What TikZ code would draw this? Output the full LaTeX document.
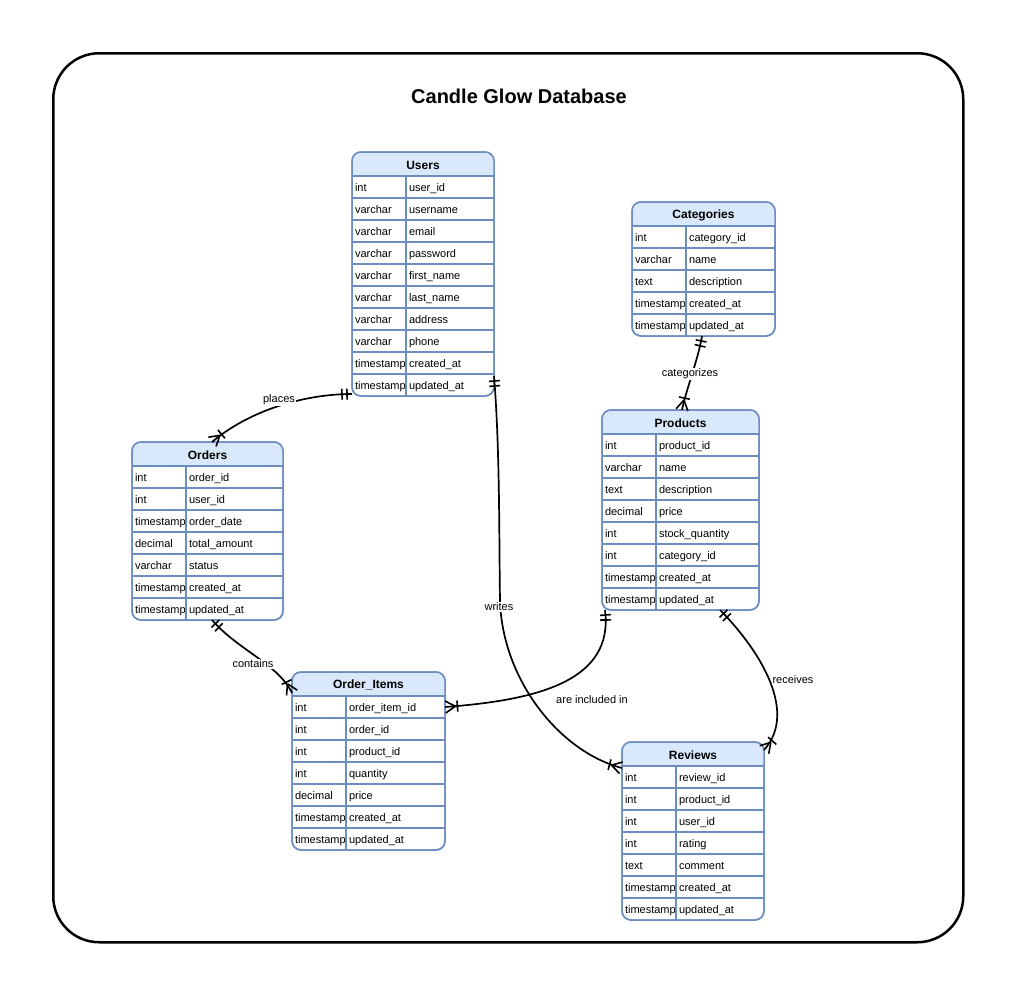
\documentclass[tikz,border=0pt]{standalone}
\usepackage{fontspec}
\setmainfont{Liberation Sans}
\usetikzlibrary{decorations.markings,calc}
\definecolor{hdr}{HTML}{DAE8FC}
\definecolor{bd}{HTML}{6C8EBF}
\tikzset{
  tbl/.style={draw=bd, line width=1.5pt, fill=white, rounded corners=9pt, inner sep=0pt, outer sep=0pt},
  tblline/.style={draw=bd, line width=1.3pt},
  hdrtext/.style={inner sep=0pt, outer sep=0pt, font=\fontsize{12}{14}\selectfont\bfseries},
  rowbox/.style={inner sep=0pt, outer sep=0pt},
  cell/.style={inner sep=0pt, outer sep=0pt, text height=8pt, text depth=2.5pt, font=\fontsize{11}{13}\selectfont},
  lbl/.style={fill=white, inner sep=1pt, font=\fontsize{11}{13}\selectfont},
  frame/.style={draw=black, line width=2.5pt, rounded corners=46pt, inner sep=0pt},
  titletext/.style={font=\fontsize{20}{24}\selectfont\bfseries},
  rel/.style={draw=black, line width=1.7pt, postaction={decorate},
    decoration={markings,
      mark=at position 5pt with {\draw[black, line width=1.6pt] (0,-5.5pt)--(0,5.5pt);},
      mark=at position 10pt with {\draw[black, line width=1.6pt] (0,-5.5pt)--(0,5.5pt);},
      mark=at position 0.998 with {\draw[black, line width=1.6pt] (-10pt,0)--(0,6pt) (-10pt,0)--(0,-6pt) (-12pt,-5.5pt)--(-12pt,5.5pt);}}},
}
% #1 name, #2 x, #3 y, #4 width, #5 divider, #6 title, #7 rows count, #8 rows
\newcommand{\ERtable}[8]{%
  \pgfmathsetmacro\ERh{24+22*#7}%
  \node[tbl, minimum width=#4, minimum height=\ERh, anchor=north west] (#1) at (#2,#3) {};
  \begin{scope}
    \clip (#2,#3) rectangle ++(#4,24);
    \fill[hdr, rounded corners=9pt] (#2,#3) rectangle ++(#4,\ERh);
  \end{scope}
  \node[hdrtext, minimum width=#4, minimum height=24, anchor=north west] (#1-h) at ([yshift=-1pt]#2,#3) {#6};
  \foreach \ty/\fd [count=\i] in {#8} {
    \node[rowbox, minimum width=#4, minimum height=22, anchor=north west] (#1-\i) at (#2,{#3+24+22*(\i-1)}) {};
    \draw[tblline] (#1-\i.north west) -- (#1-\i.north east);
    \node[cell, anchor=west] (#1-\i-t) at ([xshift=3pt, yshift=-1.5pt]#1-\i.west) {\ty};
    \node[cell, anchor=west] (#1-\i-f) at ([xshift=#5pt+3pt, yshift=-1.5pt]#1-\i.west) {\fd};
  }
  \draw[tblline] (#2+#5,#3+24) -- ++(0,22*#7);
  \draw[draw=bd, line width=1.5pt, rounded corners=9pt] (#1.north west) rectangle (#1.south east);
}
\begin{document}
\begin{tikzpicture}[x=1pt, y=-1pt]
\useasboundingbox (0,0) rectangle (1013,993);
\node[frame, minimum width=910, minimum height=889, anchor=north west] (outer) at (52,52) {};
\node[titletext] (title) at (519,96) {Candle Glow Database};

\ERtable{users}{352}{152}{142}{54}{Users}{10}{int/user\_id, varchar/username, varchar/email, varchar/password, varchar/first\_name, varchar/last\_name, varchar/address, varchar/phone, timestamp/created\_at, timestamp/updated\_at}
\ERtable{categories}{632}{202}{143}{54}{Categories}{5}{int/category\_id, varchar/name, text/description, timestamp/created\_at, timestamp/updated\_at}
\ERtable{orders}{132}{442}{151}{54}{Orders}{7}{int/order\_id, int/user\_id, timestamp/order\_date, decimal/total\_amount, varchar/status, timestamp/created\_at, timestamp/updated\_at}
\ERtable{products}{602}{410}{157}{54}{Products}{8}{int/product\_id, varchar/name, text/description, decimal/price, int/stock\_quantity, int/category\_id, timestamp/created\_at, timestamp/updated\_at}
\ERtable{items}{292}{672}{153}{54}{Order\_Items}{7}{int/order\_item\_id, int/order\_id, int/product\_id, int/quantity, decimal/price, timestamp/created\_at, timestamp/updated\_at}
\ERtable{reviews}{622}{742}{142}{54}{Reviews}{7}{int/review\_id, int/product\_id, int/user\_id, int/rating, text/comment, timestamp/created\_at, timestamp/updated\_at}

% connectors
\draw[rel] ([yshift=2pt]users.south west) .. controls (305,394) and (250,410) .. ([xshift=80pt]orders.north west);
\draw[rel] ([xshift=80pt]orders.south west) .. controls (238,650) and (278,664) .. ([yshift=-21pt]items.north west);
\draw[rel] ([yshift=20pt]users.south east) .. controls (500,450) and (499,540) .. (500,600) .. controls (502,680) and (560,752) .. ([yshift=-26pt]reviews.north west);
\draw[rel] ([xshift=3pt]products.south west) .. controls (614,680) and (540,700) .. (items-1.east);
\draw[rel] ([xshift=118pt]products.south west) .. controls (755,645) and (800,710) .. ([yshift=-8pt]reviews.north east);
\draw[rel] ([xshift=70pt]categories.south west) .. controls (698,360) and (686,390) .. ([xshift=80pt]products.north west);

% labels
\node[lbl] (l-places) at (279,400) {places};
\node[lbl] (l-contains) at (253,664) {contains};
\node[lbl] (l-writes) at (499,607) {writes};
\node[lbl] (l-incl) at (592,700) {are included in};
\node[lbl] (l-receives) at (793,680) {receives};
\node[lbl] (l-categorizes) at (690,374) {categorizes};
\end{tikzpicture}
\end{document}
